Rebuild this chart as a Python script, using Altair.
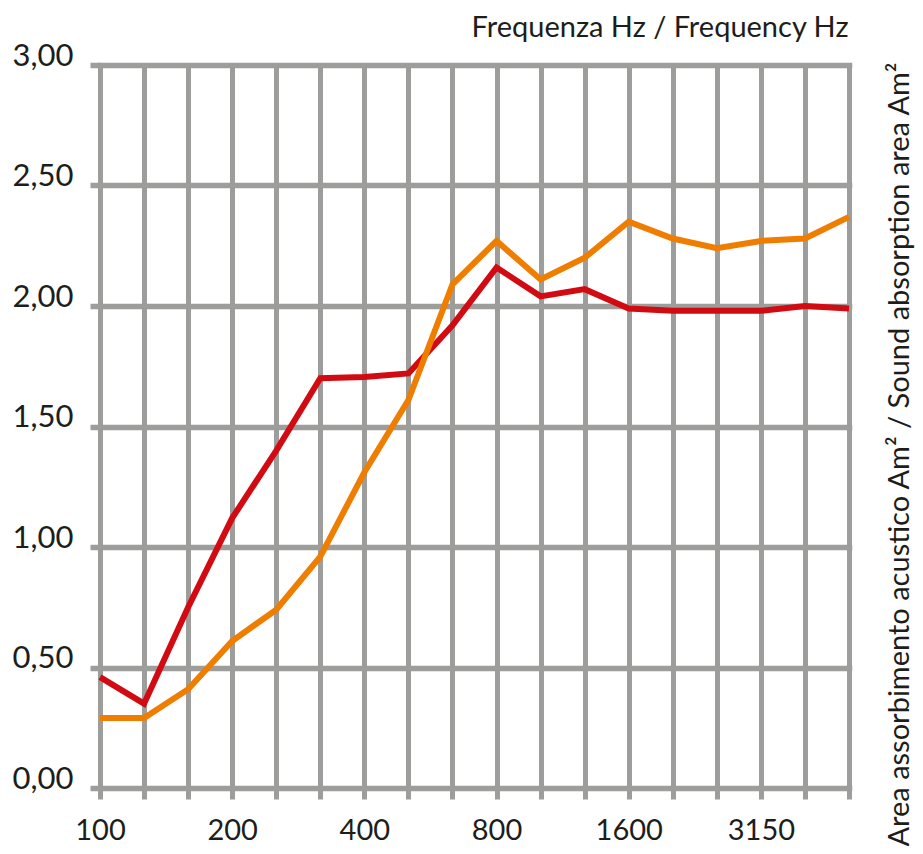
import json
import altair as alt
import pandas as pd

freqs = ["100", "125", "160", "200", "250", "315", "400", "500", "630",
         "800", "1000", "1250", "1600", "2000", "2500", "3150", "4000", "5000"]
red_vals = [0.46, 0.35, 0.75, 1.12, 1.40, 1.70, 1.705, 1.72, 1.92,
            2.16, 2.04, 2.07, 1.99, 1.98, 1.98, 1.98, 2.00, 1.99]
orange_vals = [0.29, 0.29, 0.41, 0.61, 0.74, 0.96, 1.31, 1.61, 2.09,
               2.27, 2.11, 2.20, 2.35, 2.28, 2.24, 2.27, 2.28, 2.37]
shown_labels = ["100", "200", "400", "800", "1600", "3150"]
y_ticks = [0, 0.5, 1.0, 1.5, 2.0, 2.5, 3.0]

rows = []
for f, v in zip(freqs, red_vals):
    rows.append({"freq": f, "value": v, "series": "red"})
for f, v in zip(freqs, orange_vals):
    rows.append({"freq": f, "value": v, "series": "orange"})
df = pd.DataFrame(rows)

GRID = "#9d9d9c"
FONT = "Lato"
TXT = "#1d1d1b"
RED = "#d20a11"
ORANGE = "#ef7d00"

x_enc = alt.X(
    "freq:N", sort=freqs,
    scale=alt.Scale(type="point", padding=0),
    axis=alt.Axis(
        grid=True, gridColor=GRID, gridWidth=5, gridOpacity=1, gridCap="square",
        domain=False, ticks=True, tickColor=GRID, tickWidth=5, tickSize=11,
        labelAngle=0, labelOverlap=False,
        labelExpr="indexof(" + json.dumps(shown_labels).replace('"', "'") + ", datum.label) >= 0 ? datum.label : ''",
        labelFont=FONT, labelFontSize=29, labelColor=TXT, labelPadding=40,
        labelBaseline="alphabetic",
        title="Frequenza Hz / Frequency Hz", titleFont=FONT, titleFontSize=29,
        titleFontWeight="normal", titleColor=TXT,
        titleX=748, titleY=-752, titleAlign="right", titleBaseline="alphabetic",
        titleAngle=0,
    ),
)

y_enc = alt.Y(
    "value:Q",
    scale=alt.Scale(domain=[0, 3], nice=False, zero=True),
    axis=alt.Axis(
        values=y_ticks, grid=True, gridColor=GRID, gridWidth=5.5, gridOpacity=1,
        gridCap="square", domain=False, tickColor=GRID, tickWidth=5.5, tickSize=10,
        labelExpr="replace(format(datum.value, '.2f'), '.', ',')",
        labelFont=FONT, labelFontSize=31, labelColor=TXT, labelPadding=17,
        labelBaseline="alphabetic", labelFlush=False, labelAlign="right",
        title="Area assorbimento acustico Am² / Sound absorption area Am²",
        titleFont=FONT, titleFontSize=29, titleFontWeight="normal", titleColor=TXT,
        titleX=808, titleY=389, titleAngle=270, titleAlign="center",
        titleBaseline="alphabetic",
    ),
)

red_layer = alt.Chart(df).transform_filter(alt.datum.series == "red").mark_line(
    color=RED, strokeWidth=6
).encode(x=x_enc, y=y_enc)

orange_layer = alt.Chart(df).transform_filter(alt.datum.series == "orange").mark_line(
    color=ORANGE, strokeWidth=6
).encode(x=x_enc, y=y_enc)

chart = alt.layer(red_layer, orange_layer).properties(
    width=749, height=723,
    padding={"left": 92, "top": 57, "right": 66, "bottom": 58},
    autosize=alt.AutoSizeParams(type="none"),
    background="white",
).configure_view(stroke=None)

chart.save("out.html", embed_options={"renderer": "svg", "actions": False})
